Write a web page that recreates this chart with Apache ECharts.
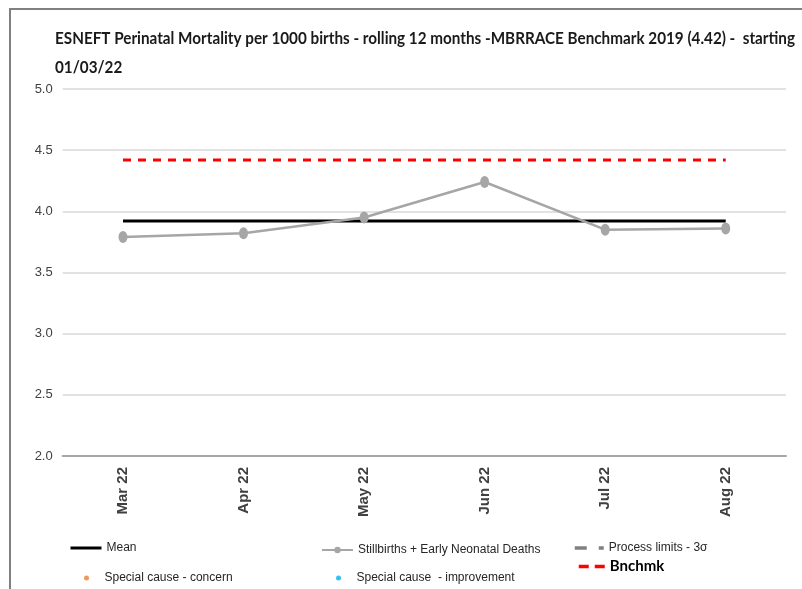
<!DOCTYPE html>
<html>
<head>
<meta charset="utf-8">
<script src="https://cdn.jsdelivr.net/npm/echarts@6/dist/echarts.min.js"></script>
<style>
  html, body { margin: 0; padding: 0; background: #fff; }
  #chart { width: 802px; height: 589px; }
</style>
</head>
<body>
<div id="chart"></div>
<script>
// Monthly rolling 12-month perinatal mortality (per 1000 births)
const months = ['Mar 22', 'Apr 22', 'May 22', 'Jun 22', 'Jul 22', 'Aug 22'];
const deaths = [3.79, 3.82, 3.95, 4.24, 3.85, 3.86];
const meanValue = 3.92;
const benchmarkValue = 4.42;
const yTicks = { min: 2.0, max: 5.0, step: 0.5 };
const titleLines = [
  'ESNEFT Perinatal Mortality per 1000 births - rolling 12 months -MBRRACE Benchmark 2019 (4.42) -  starting',
  '01/03/22'
];

const meanLine = months.map(() => meanValue);
const benchLine = months.map(() => benchmarkValue);

const sans = "'Liberation Sans', Arial, sans-serif";
const titleFont = 'bold 17px Lato, "Open Sans", sans-serif';
const ellipse = 'path://M0,5a5,5 0 1,0 10,0a5,5 0 1,0 -10,0';

// Title is squeezed horizontally so the long first line fits the frame width
const measure = document.createElement('canvas').getContext('2d');
measure.font = titleFont;
const titleScaleX = 740 / measure.measureText(titleLines[0]).width;

const chart = echarts.init(document.getElementById('chart'), null, { renderer: 'canvas' });

const legendBase = {
  orient: 'horizontal',
  padding: 0,
  itemGap: 0,
  selectedMode: false,
  textStyle: { fontFamily: sans, fontSize: 12, color: '#262626' }
};
const hideSymbol = { itemStyle: { opacity: 0 } };

chart.setOption({
  animation: false,
  backgroundColor: '#fff',
  graphic: [
    {
      type: 'rect',
      shape: { x: 10, y: 9, width: 820, height: 620 },
      style: { fill: 'none', stroke: '#808080', lineWidth: 2 },
      silent: true
    },
    {
      type: 'text',
      x: 55, y: 47, scaleX: titleScaleX,
      style: { text: titleLines[0], font: titleFont, fill: '#1a1a1a', verticalAlign: 'bottom' },
      silent: true
    },
    {
      type: 'text',
      x: 55, y: 76, scaleX: titleScaleX,
      style: { text: titleLines[1], font: titleFont, fill: '#1a1a1a', verticalAlign: 'bottom' },
      silent: true
    }
  ],
  grid: { left: 62.7, right: 16, top: 89, bottom: 133 },
  xAxis: {
    type: 'category',
    data: months,
    boundaryGap: true,
    axisLine: { lineStyle: { color: '#a6a6a6', width: 2 } },
    axisTick: { show: false },
    axisLabel: {
      rotate: 90,
      margin: 11,
      fontFamily: sans,
      fontSize: 15,
      fontWeight: 'bold',
      color: '#404040'
    }
  },
  yAxis: {
    type: 'value',
    min: yTicks.min,
    max: yTicks.max,
    interval: yTicks.step,
    axisLine: { show: false },
    axisTick: { show: false },
    splitLine: { lineStyle: { color: '#d9d9d9', width: 1.5 } },
    axisLabel: {
      margin: 10,
      fontFamily: sans,
      fontSize: 13,
      color: '#404040',
      formatter: v => v.toFixed(1)
    }
  },
  legend: [
    Object.assign({}, legendBase, hideSymbol, {
      data: ['Mean'], left: 69, top: 542, itemWidth: 31, itemHeight: 14,
      lineStyle: { color: '#000', width: 3, opacity: 1 }
    }),
    Object.assign({}, legendBase, { data: ['Stillbirths + Early Neonatal Deaths'], left: 321, top: 544, itemWidth: 31, itemHeight: 8 }),
    Object.assign({}, legendBase, hideSymbol, {
      data: ['Process limits - 3σ'], left: 573, top: 542, itemWidth: 29, itemHeight: 14,
      lineStyle: { color: '#808080', width: 3.5, type: [12, 12], opacity: 1 }
    }),
    Object.assign({}, legendBase, { data: ['Special cause - concern'], left: 84, top: 572, itemWidth: 26, itemHeight: 5, icon: 'circle' }),
    Object.assign({}, legendBase, { data: ['Special cause  - improvement'], left: 336, top: 572, itemWidth: 26, itemHeight: 5, icon: 'circle' }),
    Object.assign({}, legendBase, hideSymbol, {
      data: ['Bnchmk'], left: 577, top: 559, itemWidth: 26, itemHeight: 14,
      lineStyle: { color: '#ff0000', width: 3.5, type: [10, 6], opacity: 1 },
      textStyle: { fontFamily: 'Lato, sans-serif', fontSize: 15, fontWeight: 'bold', color: '#000' }
    })
  ],
  series: [
    {
      name: 'Mean',
      type: 'line',
      data: meanLine,
      symbol: 'none',
      z: 2,
      lineStyle: { color: '#000', width: 3 },
      itemStyle: { color: '#000' }
    },
    {
      name: 'Stillbirths + Early Neonatal Deaths',
      type: 'line',
      data: deaths,
      symbol: ellipse,
      symbolSize: [9, 12],
      z: 4,
      lineStyle: { color: '#a6a6a6', width: 2.5 },
      itemStyle: { color: '#a6a6a6' }
    },
    {
      name: 'Process limits - 3σ',
      type: 'line',
      data: [],
      symbol: 'none',
      lineStyle: { color: '#808080', width: 3.5, type: [12, 12] },
      itemStyle: { color: '#808080' }
    },
    {
      name: 'Special cause - concern',
      type: 'scatter',
      data: [],
      itemStyle: { color: '#ed7d31' }
    },
    {
      name: 'Special cause  - improvement',
      type: 'scatter',
      data: [],
      itemStyle: { color: '#00b0f0' }
    },
    {
      name: 'Bnchmk',
      type: 'line',
      data: benchLine,
      symbol: 'none',
      z: 3,
      lineStyle: { color: '#ff0000', width: 3, type: [8, 7] },
      itemStyle: { color: '#ff0000' }
    }
  ]
});
</script>
</body>
</html>
